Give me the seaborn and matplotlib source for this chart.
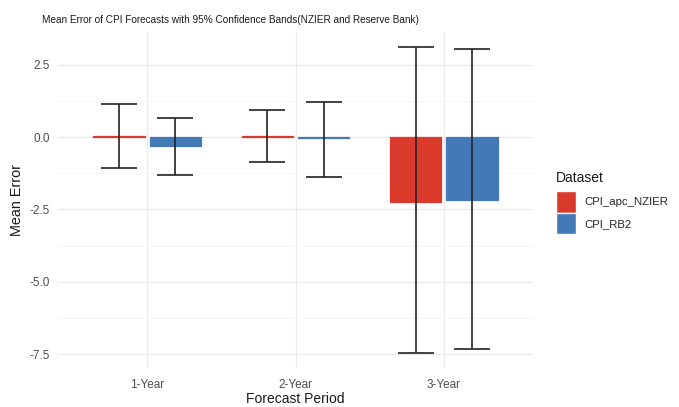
import matplotlib
matplotlib.use("Agg")
import matplotlib.pyplot as plt
from matplotlib.ticker import MultipleLocator
import seaborn as sns
import pandas as pd

# Mean forecast error with 95% confidence bounds
periods = ["1-Year", "2-Year", "3-Year"]
datasets = ["CPI_apc_NZIER", "CPI_RB2"]
mean_nzier = [0.04, 0.04, -2.24]
lower_nzier = [-1.07, -0.86, -7.47]
upper_nzier = [1.14, 0.93, 3.10]
mean_rb2 = [-0.31, -0.03, -2.17]
lower_rb2 = [-1.30, -1.38, -7.33]
upper_rb2 = [0.66, 1.20, 3.06]
colors = ["#D93A2C", "#4479B8"]

df = pd.DataFrame({
    "Forecast Period": periods * 2,
    "Dataset": [datasets[0]] * 3 + [datasets[1]] * 3,
    "Mean Error": mean_nzier + mean_rb2,
    "lower": lower_nzier + lower_rb2,
    "upper": upper_nzier + upper_rb2,
})

sns.set_theme(style="whitegrid")
plt.rcParams["font.family"] = ["Liberation Sans", "DejaVu Sans"]

fig = plt.figure(figsize=(6.79, 4.07), dpi=100)
ax = fig.add_axes([0.0854, 0.0958, 0.6996, 0.8252])

sns.barplot(data=df, x="Forecast Period", y="Mean Error", hue="Dataset",
            palette=colors, width=0.76, gap=0.09, errorbar=None,
            saturation=1, ax=ax, legend=True)

# Outline each bar in its own colour so near-zero means stay visible
for cont in ax.containers:
    for b in cont:
        b.set_edgecolor(b.get_facecolor())
        b.set_linewidth(0.9)

# Error bars centred on each bar
for cont, name in zip(ax.containers, datasets):
    sub = df[df["Dataset"] == name]
    xs = [b.get_x() + b.get_width() / 2 for b in cont]
    m = sub["Mean Error"].to_numpy()
    ax.errorbar(xs, m, yerr=[m - sub["lower"].to_numpy(), sub["upper"].to_numpy() - m],
                fmt="none", ecolor="#222222", elinewidth=1.2, capsize=13,
                capthick=1.2, zorder=5)

ax.set_xlim(-0.6, 2.6)
ax.set_ylim(-7.98, 3.63)
ax.yaxis.set_major_locator(MultipleLocator(2.5))
ax.yaxis.set_minor_locator(MultipleLocator(1.25))
ax.set_yticks([2.5, 0.0, -2.5, -5.0, -7.5])
ax.set_yticklabels(["2.5", "0.0", "-2.5", "-5.0", "-7.5"])
ax.grid(which="major", color="#EBEBEB", linewidth=0.9)
ax.grid(which="minor", axis="y", color="#F4F4F4", linewidth=0.6)
ax.set_axisbelow(True)
for s in ax.spines.values():
    s.set_visible(False)
ax.tick_params(axis="both", which="both", length=0, labelsize=8.5,
               labelcolor="#4D4D4D", pad=6)
ax.tick_params(axis="x", pad=8)

ax.set_xlabel("Forecast Period", fontsize=10, color="#1A1A1A", labelpad=0.5)
ax.set_ylabel("Mean Error", fontsize=10.4, color="#1A1A1A", labelpad=4)
fig.text(0.062, 0.951, "Mean Error of CPI Forecasts with 95% Confidence Bands(NZIER and Reserve Bank)",
         fontsize=7.2, color="#1A1A1A", ha="left", va="center")

# Legend keys with the title placed above them
handles, labels = ax.get_legend_handles_labels()
if ax.legend_ is not None:
    ax.legend_.remove()
fig.legend(handles, labels, loc="upper left", bbox_to_anchor=(556 / 679, 1 - 191 / 407),
           frameon=False, fontsize=8.2, handlelength=1.75, handleheight=2.55,
           labelspacing=0.0, handletextpad=0.7, borderaxespad=0, borderpad=0)
fig.text(556 / 679, 1 - 178 / 407, "Dataset", fontsize=10, color="#1A1A1A",
         ha="left", va="center")

fig.savefig("out.png", dpi=100)
